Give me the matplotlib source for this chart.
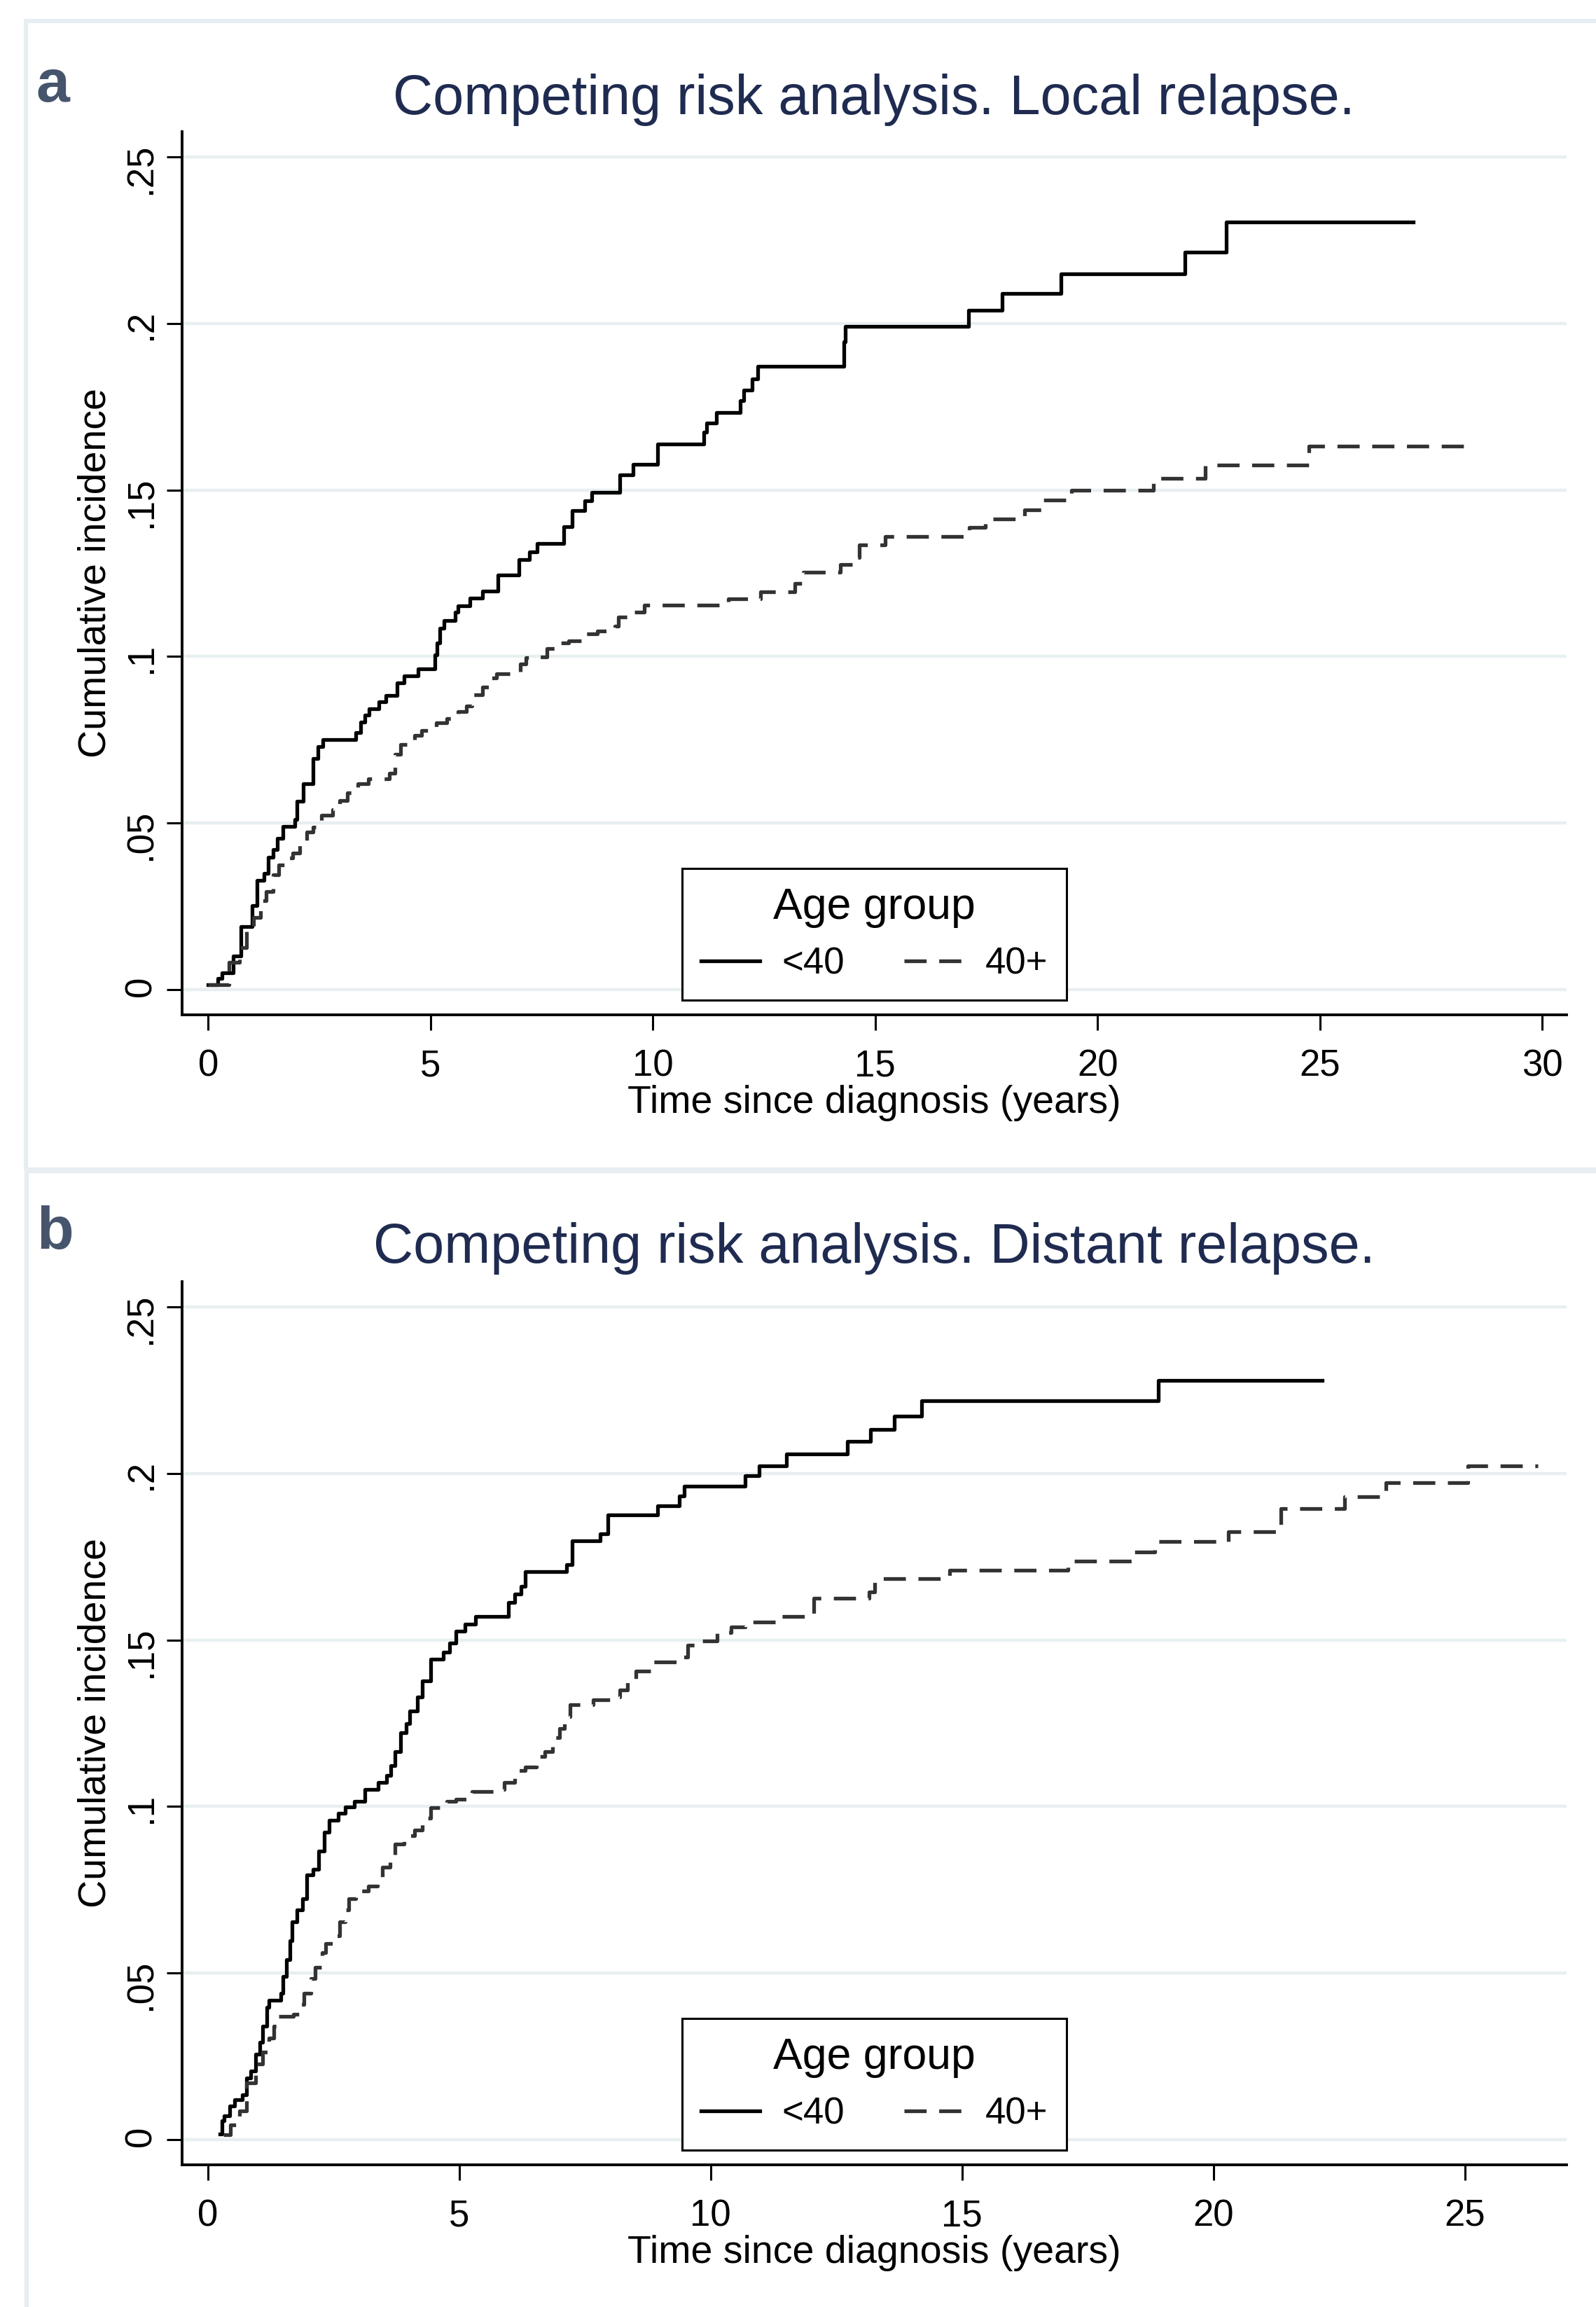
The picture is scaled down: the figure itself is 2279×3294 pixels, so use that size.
"""Competing risk curves (cumulative incidence by age group), two stacked panels.
Writes out.png.
"""
import matplotlib
matplotlib.use("Agg")
import matplotlib.pyplot as plt
from matplotlib.patches import Rectangle

plt.rcParams["font.family"] = ["Liberation Sans", "DejaVu Sans"]

W, H = 2279, 3294
TITLE_C, PANEL_C, GRID_C, FRAME_C = "#1f2b50", "#46556c", "#e8eff1", "#e6eef1"
DASH_C = "#333333"

# --- panel a: local relapse (years, cumulative incidence)
A_LT40_T = [0, 0.22, 0.3, 0.56, 0.74, 0.98, 1.1, 1.25, 1.35, 1.45, 1.55, 1.68, 1.95, 2.0, 2.13,
            2.35, 2.47, 2.57, 3.32, 3.42, 3.52, 3.62, 3.84, 4.0, 4.24, 4.4, 4.72, 5.09, 5.15, 5.21,
            5.3, 5.55, 5.61, 5.88, 6.17, 6.51, 6.98, 7.22, 7.4, 8.0, 8.18, 8.46, 8.63, 9.25, 9.55,
            10.1, 11.15, 11.21, 11.43, 11.96, 12.05, 12.23, 12.35, 14.29, 14.32, 17.1, 17.85,
            19.17, 21.97, 22.89, 27.1]
A_LT40_V = [0.0014, 0.0033, 0.005, 0.010, 0.019, 0.0253, 0.0328, 0.0348, 0.0398, 0.042, 0.0455,
            0.049, 0.051, 0.0565, 0.0618, 0.0693, 0.0729, 0.075, 0.0771, 0.0803, 0.0824, 0.0842,
            0.0864, 0.0882, 0.092, 0.0942, 0.0963, 0.1006, 0.104, 0.1084, 0.1108, 0.1134, 0.1152,
            0.1176, 0.1197, 0.1244, 0.129, 0.1314, 0.134, 0.1389, 0.1439, 0.1467, 0.1493, 0.1545,
            0.1577, 0.1638, 0.1674, 0.1702, 0.1732, 0.1768, 0.1801, 0.1834, 0.1871, 0.1946,
            0.1992, 0.204, 0.209, 0.215, 0.2214, 0.2304, 0.2304]
A_40P_T = [0, 0.46, 0.7, 0.86, 1.02, 1.18, 1.3, 1.46, 1.58, 1.82, 1.9, 2.06, 2.22, 2.35, 2.55,
           2.8, 2.96, 3.12, 3.36, 3.6, 4.08, 4.2, 4.32, 4.64, 4.8, 5.13, 5.37, 5.61, 5.81, 5.93,
           6.17, 6.33, 6.49, 7.02, 7.14, 7.38, 7.62, 7.86, 8.1, 8.43, 8.75, 9.15, 9.23, 9.55, 9.8,
           11.69, 12.42, 13.2, 13.38, 14.22, 14.58, 14.64, 15.22, 17.11, 17.48, 18.36, 18.78,
           19.41, 21.26, 22.43, 24.76, 28.5]
A_40P_V = [0.0014, 0.0082, 0.0125, 0.0175, 0.0217, 0.0267, 0.0295, 0.0345, 0.0374, 0.0395,
           0.041, 0.0445, 0.0473, 0.0487, 0.0523, 0.054, 0.0568, 0.0591, 0.0618, 0.0632, 0.065,
           0.0707, 0.0736, 0.0764, 0.0778, 0.08, 0.0814, 0.0835, 0.0852, 0.0885, 0.0909, 0.0935,
           0.0949, 0.0977, 0.0996, 0.0999, 0.1023, 0.1041, 0.1048, 0.1068, 0.1077, 0.1091,
           0.1119, 0.1134, 0.1155, 0.1173, 0.1195, 0.122, 0.1253, 0.1277, 0.1298, 0.1335,
           0.1361, 0.1387, 0.1413, 0.1441, 0.1469, 0.150, 0.1535, 0.1575, 0.1632, 0.1632]

# --- panel b: distant relapse
B_LT40_T = [0.24, 0.28, 0.33, 0.43, 0.53, 0.69, 0.77, 0.86, 0.95, 1.04, 1.09, 1.17, 1.22, 1.45,
            1.5, 1.57, 1.63, 1.68, 1.77, 1.88, 1.97, 2.09, 2.2, 2.32, 2.41, 2.59, 2.74, 2.91,
            3.13, 3.39, 3.55, 3.64, 3.72, 3.83, 3.94, 4.01, 4.17, 4.27, 4.43, 4.68, 4.81, 4.93,
            5.11, 5.32, 5.98, 6.1, 6.23, 6.32, 7.13, 7.24, 7.81, 7.95, 8.95, 9.37, 9.48, 10.68,
            10.96, 11.51, 12.72, 13.18, 13.65, 14.2, 18.9, 22.16]
B_LT40_V = [0.0017, 0.0057, 0.0071, 0.01, 0.012, 0.0135, 0.0185, 0.0206, 0.0256, 0.0291, 0.0341,
            0.0398, 0.0419, 0.044, 0.049, 0.054, 0.0597, 0.0653, 0.0689, 0.0724, 0.0795, 0.0812,
            0.0866, 0.0923, 0.0959, 0.098, 0.0999, 0.1016, 0.1051, 0.1072, 0.1094, 0.1122,
            0.1165, 0.1222, 0.125, 0.1286, 0.1328, 0.1378, 0.1442, 0.1463, 0.1491, 0.1527,
            0.1548, 0.157, 0.1612, 0.1638, 0.1662, 0.1705, 0.1726, 0.1797, 0.1818, 0.1875,
            0.1903, 0.1932, 0.1962, 0.1993, 0.2023, 0.2058, 0.2097, 0.2133, 0.2172, 0.2219,
            0.2279, 0.2279]
B_40P_T = [0.31, 0.45, 0.63, 0.77, 0.95, 1.09, 1.22, 1.31, 1.41, 1.7, 1.81, 1.91, 2.05, 2.14,
           2.27, 2.34, 2.55, 2.62, 2.73, 2.8, 2.94, 3.19, 3.37, 3.47, 3.62, 3.72, 3.9, 4.11,
           4.26, 4.43, 4.75, 4.93, 5.25, 5.68, 5.89, 6.1, 6.32, 6.53, 6.71, 6.85, 6.99, 7.1,
           7.21, 7.67, 8.06, 8.2, 8.34, 8.52, 8.8, 9.44, 9.55, 9.8, 10.13, 10.41, 10.68, 11.32,
           12.05, 13.15, 13.26, 14.75, 17.1, 18.43, 18.83, 20.3, 21.34, 22.6, 23.43, 25.05, 26.45]
B_40P_V = [0.0014, 0.0043, 0.0085, 0.017, 0.0227, 0.0263, 0.0305, 0.0341, 0.0369, 0.0376,
           0.0405, 0.044, 0.0483, 0.0518, 0.0561, 0.0589, 0.0611, 0.0653, 0.0689, 0.0724,
           0.0746, 0.076, 0.0788, 0.0817, 0.0852, 0.0888, 0.0912, 0.093, 0.0966, 0.0997,
           0.1015, 0.1022, 0.1044, 0.1051, 0.1072, 0.1108, 0.1119, 0.115, 0.1164, 0.1207,
           0.1235, 0.1271, 0.1306, 0.132, 0.1328, 0.1349, 0.1377, 0.1406, 0.1434, 0.1448,
           0.1484, 0.1498, 0.1522, 0.154, 0.1553, 0.1571, 0.1625, 0.1645, 0.1684, 0.1709,
           0.1737, 0.1765, 0.1795, 0.1826, 0.1894, 0.193, 0.1972, 0.2022, 0.2022]

Y_TICKS = [0, 0.05, 0.1, 0.15, 0.2, 0.25]
Y_TICKLABELS = ["0", ".05", ".1", ".15", ".2", ".25"]
A_XTICKS = [0, 5, 10, 15, 20, 25, 30]
B_XTICKS = [0, 5, 10, 15, 20, 25]
GROUPS = ["<40", "40+"]


def fx(px):
    return px / W


def fy(px):
    return 1 - px / H


def panel(fig, rect, letter, title, letter_y, title_y, xt, xlim, curves):
    ax = fig.add_axes(rect)
    (t1, v1), (t2, v2) = curves
    ax.step(t1, v1, where="post", color="black", lw=3.8, label=GROUPS[0], zorder=3)
    ax.step(t2, v2, where="post", color=DASH_C, lw=3.8, dashes=(6, 3.4), label=GROUPS[1], zorder=3)
    ax.set_xlim(*xlim)
    ax.set_ylim(-0.0076, 0.2576)
    ax.set_xticks(xt)
    ax.set_yticks(Y_TICKS)
    ax.set_yticklabels(Y_TICKLABELS)
    ax.grid(axis="y", color=GRID_C, lw=3.2, zorder=0)
    ax.set_axisbelow(True)
    for s in ("top", "right"):
        ax.spines[s].set_visible(False)
    for s in ("left", "bottom"):
        ax.spines[s].set_linewidth(2.8)
    ax.tick_params(length=16, width=2.2, labelsize=38, color="black")
    ax.tick_params(axis="x", pad=19)
    ax.tick_params(axis="y", labelrotation=90, pad=8)
    ax.set_xlabel("Time since diagnosis (years)", fontsize=40, labelpad=1)
    ax.set_ylabel("Cumulative incidence", fontsize=40, labelpad=10)
    leg = ax.legend(title="Age group", ncol=2, loc="lower center", bbox_to_anchor=(0.5, 0.0166),
                    frameon=True, fancybox=False, edgecolor="black", framealpha=1,
                    fontsize=38, title_fontsize=45, handlelength=1.6, handletextpad=0.6,
                    columnspacing=1.6, borderpad=0.5, borderaxespad=0)
    leg.get_frame().set_linewidth(2.2)
    fig.text(fx(1248), fy(title_y), title, ha="center", va="baseline", fontsize=57, color=TITLE_C)
    fig.text(fx(52), fy(letter_y), letter, ha="left", va="baseline", fontsize=62,
             fontweight="bold", color=PANEL_C)
    return ax


def main():
    fig = plt.figure(figsize=(W / 100, H / 100), dpi=100)
    # light outer frames around each panel
    fig.add_artist(Rectangle((fx(37), fy(1670)), 1, fy(30) - fy(1670), transform=fig.transFigure,
                             fill=False, ec=FRAME_C, lw=4.5))
    fig.add_artist(Rectangle((fx(38), -0.01), 1, fy(1672) + 0.01, transform=fig.transFigure,
                             fill=False, ec=FRAME_C, lw=4.5))

    left, width, height = fx(260), (2237 - 260) / W, (1449 - 188) / H
    panel(fig, [left, fy(1449), width, height], "a", "Competing risk analysis. Local relapse.",
          145, 163, A_XTICKS, (-0.59, 30.55), [(A_LT40_T, A_LT40_V), (A_40P_T, A_40P_V)])
    panel(fig, [left, fy(3091), width, height], "b", "Competing risk analysis. Distant relapse.",
          1783, 1803, B_XTICKS, (-0.51, 27.02), [(B_LT40_T, B_LT40_V), (B_40P_T, B_40P_V)])

    fig.savefig("out.png", dpi=100)


if __name__ == "__main__":
    main()
